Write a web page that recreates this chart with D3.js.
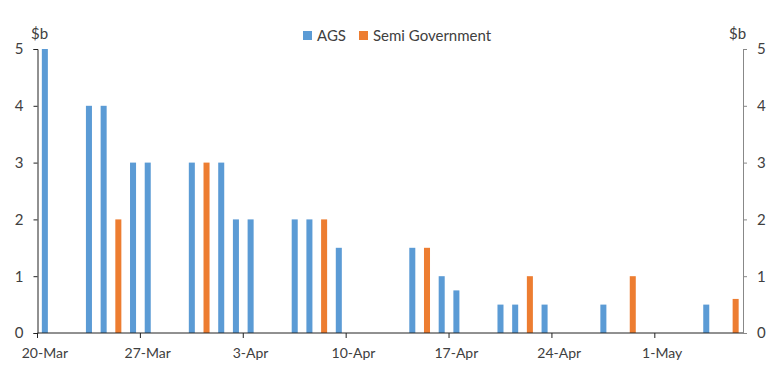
<!DOCTYPE html>
<html>
<head>
<meta charset="utf-8">
<script src="https://cdn.jsdelivr.net/npm/d3@7"></script>
<style>
  body { margin: 0; background: #fff; }
  text { font-family: Lato, "Open Sans", sans-serif; fill: #404040; }
</style>
</head>
<body>
<svg></svg>
<script>
var width = 768;
var height = 384;

// issuance days (20-Mar to 6-May) and amounts, $b
var agsDates  = ["2020-03-20", "2020-03-23", "2020-03-24", "2020-03-26", "2020-03-27", "2020-03-30",
                 "2020-04-01", "2020-04-02", "2020-04-03", "2020-04-06", "2020-04-07", "2020-04-09",
                 "2020-04-14", "2020-04-16", "2020-04-17", "2020-04-20", "2020-04-21", "2020-04-23",
                 "2020-04-27", "2020-05-04"];
var agsValues = [5, 4, 4, 3, 3, 3, 3, 2, 2, 2, 2, 1.5, 1.5, 1, 0.75, 0.5, 0.5, 0.5, 0.5, 0.5];

var semiDates  = ["2020-03-25", "2020-03-31", "2020-04-08", "2020-04-15", "2020-04-22", "2020-04-29", "2020-05-06"];
var semiValues = [2, 3, 2, 1.5, 1, 1, 0.6];

var tickDates = ["2020-03-20", "2020-03-27", "2020-04-03", "2020-04-10", "2020-04-17", "2020-04-24", "2020-05-01"];
var yTicks = [0, 1, 2, 3, 4, 5];

var parse = d3.utcParse("%Y-%m-%d");
var fmt = d3.utcFormat("%-d-%b");
var days = d3.utcDays(Date.UTC(2020, 2, 20), Date.UTC(2020, 4, 7)).map(function(d) { return +d; });

var x = d3.scaleBand()
    .domain(days)
    .range([37.5, 743])
    .paddingInner(0.59)
    .paddingOuter(0.295);

var y = d3.scaleLinear()
    .domain([0, 5])
    .range([333, 49]);

var svg = d3.select("svg")
    .attr("width", width)
    .attr("height", height);

function bars(dates, values, colour) {
    svg.append("g").selectAll("rect")
        .data(dates.map(function(d, i) { return { date: +parse(d), value: values[i] }; }))
        .enter().append("rect")
        .attr("x", function(d) { return x(d.date); })
        .attr("width", x.bandwidth())
        .attr("y", function(d) { return y(d.value); })
        .attr("height", function(d) { return y(0) - y(d.value); })
        .attr("fill", colour);
}
bars(agsDates, agsValues, "#5B9BD5");
bars(semiDates, semiValues, "#ED7D31");

// left axis
var left = svg.append("g").attr("transform", "translate(37.5,0)")
    .call(d3.axisLeft(y).tickValues(yTicks).tickFormat(d3.format("d")).tickSize(4).tickPadding(10));
left.select(".domain").attr("stroke", "#222");
left.selectAll("line").attr("stroke", "#222");
left.selectAll("text").style("font-size", "15px").attr("fill", "#404040");

// right axis
var right = svg.append("g").attr("transform", "translate(743,0)")
    .call(d3.axisRight(y).tickValues(yTicks).tickFormat(d3.format("d")).tickSize(4).tickPadding(10));
right.select(".domain").attr("stroke", "#888");
right.selectAll("line").attr("stroke", "#888");
right.selectAll("text").style("font-size", "15px").attr("fill", "#404040");

// bottom axis: ticks at the start of each labelled day, labels under the day
var step = x.step();
var bottom = svg.append("g").attr("class", "xaxis");
bottom.append("line")
    .attr("x1", 37.5).attr("x2", 743)
    .attr("y1", y(0)).attr("y2", y(0))
    .attr("stroke", "#222");
var ticks = bottom.selectAll("g")
    .data(tickDates.map(function(d) { return +parse(d); }))
    .enter().append("g");
ticks.append("line")
    .attr("x1", function(d) { return x(d) - step * 0.295; })
    .attr("x2", function(d) { return x(d) - step * 0.295; })
    .attr("y1", y(0)).attr("y2", y(0) + 5)
    .attr("stroke", "#222");
ticks.append("text")
    .attr("x", function(d) { return x(d) + x.bandwidth() / 2; })
    .attr("y", 358)
    .attr("text-anchor", "middle")
    .style("font-size", "14px")
    .text(function(d) { return fmt(new Date(d)); });

// unit labels
svg.append("text").attr("x", 31).attr("y", 39).style("font-size", "15px").text("$b");
svg.append("text").attr("x", 729).attr("y", 39).style("font-size", "15px").text("$b");

// legend
var legend = [["AGS", "#5B9BD5", 303], ["Semi Government", "#ED7D31", 359]];
var lg = svg.append("g").selectAll("g").data(legend).enter().append("g");
lg.append("rect")
    .attr("x", function(d) { return d[2]; })
    .attr("y", 31).attr("width", 9).attr("height", 9)
    .attr("fill", function(d) { return d[1]; });
lg.append("text")
    .attr("x", function(d) { return d[2] + 14; })
    .attr("y", 40.5)
    .style("font-size", "15px")
    .text(function(d) { return d[0]; });
</script>
</body>
</html>
